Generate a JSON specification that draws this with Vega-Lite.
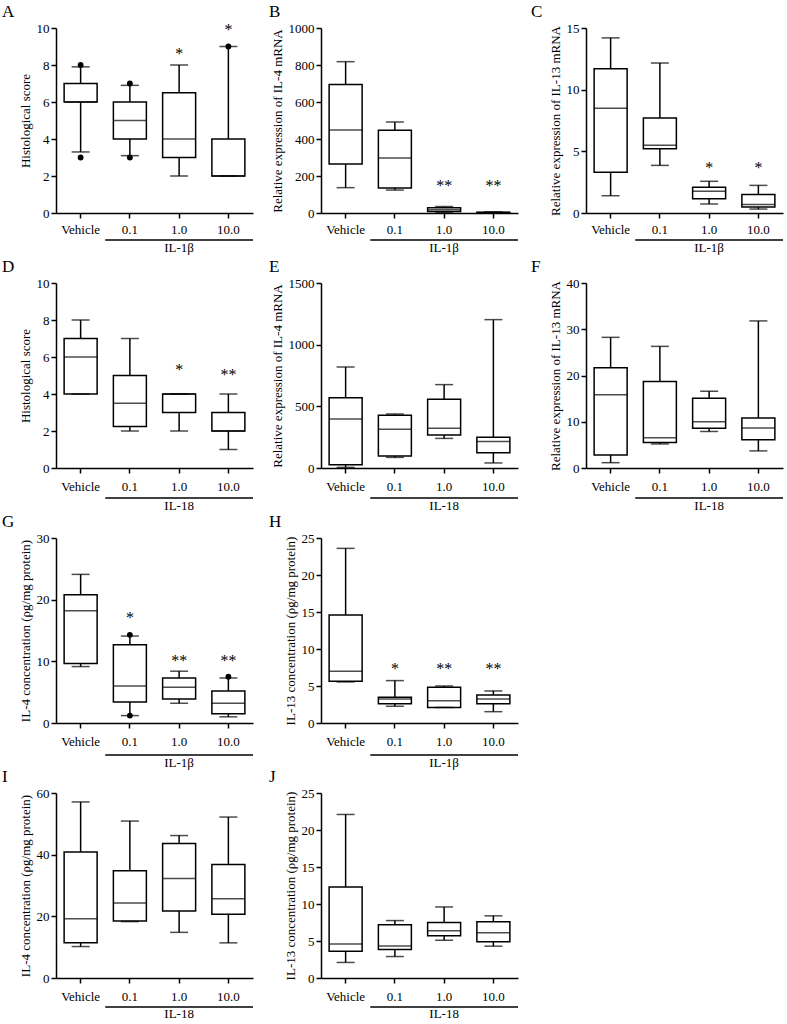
{
"$schema":"https://vega.github.io/schema/vega-lite/v6.json",
"background":"white",
"padding":{"left":2,"top":3,"right":2,"bottom":0},
"config":{
 "view":{"stroke":null},
 "font":"Liberation Serif",
 "axis":{"domainColor":"black","domainWidth":1.5,"tickColor":"black","tickWidth":1.5,"tickSize":5,"labelColor":"black","labelFont":"Liberation Serif","labelFontSize":13,"titleFont":"Liberation Serif","titleFontSize":13,"titleFontWeight":"normal","titleColor":"black","grid":false,"labelPadding":2,"titlePadding":4,"labelOverlap":false},
 "axisX":{"labelAngle":0},
 "title":{"font":"Liberation Serif","fontSize":17,"fontWeight":"normal","anchor":"start","frame":"group","color":"black"}
},
"datasets":{
 "boxes":[
  {"panel":"A","group":"Vehicle","min":3.3,"q1":6,"med":6,"q3":7,"max":7.9},
  {"panel":"A","group":"0.1","min":3.1,"q1":4,"med":5,"q3":6,"max":6.9},
  {"panel":"A","group":"1.0","min":2,"q1":3,"med":4,"q3":6.5,"max":8},
  {"panel":"A","group":"10.0","min":2,"q1":2,"med":2,"q3":4,"max":9},
  {"panel":"B","group":"Vehicle","min":137,"q1":265,"med":449,"q3":694,"max":818},
  {"panel":"B","group":"0.1","min":124,"q1":135,"med":297,"q3":447,"max":492},
  {"panel":"B","group":"1.0","min":3,"q1":8,"med":18,"q3":28,"max":35},
  {"panel":"B","group":"10.0","min":1,"q1":2,"med":3,"q3":4,"max":6},
  {"panel":"C","group":"Vehicle","min":1.4,"q1":3.3,"med":8.5,"q3":11.7,"max":14.2},
  {"panel":"C","group":"0.1","min":3.86,"q1":5.2,"med":5.5,"q3":7.7,"max":12.16},
  {"panel":"C","group":"1.0","min":0.73,"q1":1.16,"med":1.76,"q3":2.08,"max":2.57},
  {"panel":"C","group":"10.0","min":0.32,"q1":0.49,"med":0.68,"q3":1.51,"max":2.24},
  {"panel":"D","group":"Vehicle","min":4,"q1":4,"med":6,"q3":7,"max":8},
  {"panel":"D","group":"0.1","min":2,"q1":2.25,"med":3.5,"q3":5,"max":7},
  {"panel":"D","group":"1.0","min":2,"q1":3,"med":4,"q3":4,"max":4},
  {"panel":"D","group":"10.0","min":1,"q1":2,"med":2,"q3":3,"max":4},
  {"panel":"E","group":"Vehicle","min":5,"q1":27,"med":397,"q3":570,"max":819},
  {"panel":"E","group":"0.1","min":86,"q1":97,"med":314,"q3":427,"max":438},
  {"panel":"E","group":"1.0","min":240,"q1":268,"med":322,"q3":557,"max":676},
  {"panel":"E","group":"10.0","min":41,"q1":124,"med":214,"q3":249,"max":1203},
  {"panel":"F","group":"Vehicle","min":1.15,"q1":2.8,"med":15.86,"q3":21.7,"max":28.25},
  {"panel":"F","group":"0.1","min":5.2,"q1":5.5,"med":6.56,"q3":18.7,"max":26.3},
  {"panel":"F","group":"1.0","min":7.9,"q1":8.6,"med":10.0,"q3":15.1,"max":16.6},
  {"panel":"F","group":"10.0","min":3.7,"q1":6.1,"med":8.65,"q3":10.8,"max":31.8},
  {"panel":"G","group":"Vehicle","min":9.15,"q1":9.64,"med":18.2,"q3":20.8,"max":24.1},
  {"panel":"G","group":"0.1","min":1.2,"q1":3.4,"med":6.0,"q3":12.7,"max":14.1},
  {"panel":"G","group":"1.0","min":3.2,"q1":3.9,"med":5.8,"q3":7.3,"max":8.4},
  {"panel":"G","group":"10.0","min":1.0,"q1":1.5,"med":3.2,"q3":5.2,"max":7.3},
  {"panel":"H","group":"Vehicle","min":5.55,"q1":5.64,"med":7.0,"q3":14.6,"max":23.6},
  {"panel":"H","group":"0.1","min":2.26,"q1":2.6,"med":3.25,"q3":3.47,"max":5.73},
  {"panel":"H","group":"1.0","min":2.1,"q1":2.1,"med":3.0,"q3":4.83,"max":5.0},
  {"panel":"H","group":"10.0","min":1.53,"q1":2.6,"med":3.25,"q3":3.8,"max":4.33},
  {"panel":"I","group":"Vehicle","min":10.2,"q1":11.4,"med":19.2,"q3":40.9,"max":57.1},
  {"panel":"I","group":"0.1","min":18.3,"q1":18.5,"med":24.3,"q3":34.8,"max":50.9},
  {"panel":"I","group":"1.0","min":14.8,"q1":21.7,"med":32.3,"q3":43.6,"max":46.2},
  {"panel":"I","group":"10.0","min":11.4,"q1":20.7,"med":25.7,"q3":36.8,"max":52.2},
  {"panel":"J","group":"Vehicle","min":2.1,"q1":3.6,"med":4.6,"q3":12.3,"max":22.1},
  {"panel":"J","group":"0.1","min":2.9,"q1":3.84,"med":4.33,"q3":7.2,"max":7.76},
  {"panel":"J","group":"1.0","min":5.1,"q1":5.7,"med":6.4,"q3":7.5,"max":9.6},
  {"panel":"J","group":"10.0","min":4.3,"q1":4.9,"med":6.1,"q3":7.6,"max":8.4}
 ],
 "outliers":[
  {"panel":"A","group":"Vehicle","value":8},
  {"panel":"A","group":"Vehicle","value":3},
  {"panel":"A","group":"0.1","value":7},
  {"panel":"A","group":"0.1","value":3},
  {"panel":"A","group":"10.0","value":9},
  {"panel":"G","group":"0.1","value":14.3},
  {"panel":"G","group":"0.1","value":1.2},
  {"panel":"G","group":"10.0","value":7.5}
 ],
 "stars":[
  {"panel":"A","group":"1.0","label":"*","pos":8.7},
  {"panel":"A","group":"10.0","label":"*","pos":10.0},
  {"panel":"B","group":"1.0","label":"**","pos":157},
  {"panel":"B","group":"10.0","label":"**","pos":157},
  {"panel":"C","group":"1.0","label":"*","pos":3.78},
  {"panel":"C","group":"10.0","label":"*","pos":3.78},
  {"panel":"D","group":"1.0","label":"*","pos":5.4},
  {"panel":"D","group":"10.0","label":"**","pos":5.13},
  {"panel":"G","group":"0.1","label":"*","pos":17.4},
  {"panel":"G","group":"1.0","label":"**","pos":10.3},
  {"panel":"G","group":"10.0","label":"**","pos":10.3},
  {"panel":"H","group":"0.1","label":"*","pos":7.6},
  {"panel":"H","group":"1.0","label":"**","pos":7.6},
  {"panel":"H","group":"10.0","label":"**","pos":7.6}
 ]
},
"columns":3,
"spacing":{"row":70,"column":68},
"bounds":"flush",
"concat":[
 {"width":197,"height":185,"title":{"text":"A","dx":-54,"offset":1},
  "data":{"name":"boxes"},"transform":[{"filter":"datum.panel==='A'"}],
  "encoding":{"x":{"field":"group","type":"nominal","scale":{"domain":["Vehicle","0.1","1.0","10.0"],"paddingInner":0,"paddingOuter":0},"axis":{"title":null,"labelPadding":5.5}}},
  "layer":[
   {"mark":{"type":"rule","color":"black","strokeWidth":1.5},"encoding":{"y":{"field":"min","type":"quantitative","scale":{"domain":[0,10],"nice":false},"axis":{"values":[0,2,4,6,8,10],"tickCount":20,"format":"d","labelOverlap":false,"title":"Histological score"}},"y2":{"field":"max"}}},
   {"mark":{"type":"bar","fill":"white","stroke":"black","strokeWidth":1.5,"size":33},"encoding":{"y":{"field":"q1","type":"quantitative"},"y2":{"field":"q3"}}},
   {"mark":{"type":"tick","color":"black","size":33,"thickness":1.5},"encoding":{"y":{"field":"med","type":"quantitative"}}},
   {"transform":[{"fold":["min","max"],"as":["k","v"]}],"mark":{"type":"tick","color":"black","size":18,"thickness":1.5},"encoding":{"y":{"field":"v","type":"quantitative"}}},
   {"data":{"name":"outliers"},"transform":[{"filter":"datum.panel==='A'"}],"mark":{"type":"point","filled":true,"color":"black","size":34,"opacity":1},"encoding":{"y":{"field":"value","type":"quantitative"}}},
   {"data":{"name":"stars"},"transform":[{"filter":"datum.panel==='A'"}],"mark":{"type":"text","fontSize":16,"baseline":"middle","dy":2,"color":"black","font":"Liberation Serif"},"encoding":{"y":{"field":"pos","type":"quantitative"},"text":{"field":"label"}}},
   {"data":{"values":[{}]},"mark":{"type":"rule","color":"black","strokeWidth":1.5},"encoding":{"x":{"datum":"0.1","bandPosition":0},"x2":{"datum":"10.0","bandPosition":1},"y":{"datum":-1.459}}},
   {"data":{"values":[{}]},"mark":{"type":"text","fontSize":13,"baseline":"middle","color":"black","font":"Liberation Serif"},"encoding":{"x":{"datum":"1.0"},"y":{"datum":-1.892},"text":{"value":"IL-1β"}}}
  ]},
 {"width":197,"height":185,"title":{"text":"B","dx":-52,"offset":1},
  "data":{"name":"boxes"},"transform":[{"filter":"datum.panel==='B'"}],
  "encoding":{"x":{"field":"group","type":"nominal","scale":{"domain":["Vehicle","0.1","1.0","10.0"],"paddingInner":0,"paddingOuter":0},"axis":{"title":null,"labelPadding":5.5}}},
  "layer":[
   {"mark":{"type":"rule","color":"black","strokeWidth":1.5},"encoding":{"y":{"field":"min","type":"quantitative","scale":{"domain":[0,1000],"nice":false},"axis":{"values":[0,200,400,600,800,1000],"tickCount":20,"format":"d","labelOverlap":false,"title":"Relative expression of IL-4 mRNA"}},"y2":{"field":"max"}}},
   {"mark":{"type":"bar","fill":"white","stroke":"black","strokeWidth":1.5,"size":33},"encoding":{"y":{"field":"q1","type":"quantitative"},"y2":{"field":"q3"}}},
   {"mark":{"type":"tick","color":"black","size":33,"thickness":1.5},"encoding":{"y":{"field":"med","type":"quantitative"}}},
   {"transform":[{"fold":["min","max"],"as":["k","v"]}],"mark":{"type":"tick","color":"black","size":18,"thickness":1.5},"encoding":{"y":{"field":"v","type":"quantitative"}}},
   {"data":{"name":"stars"},"transform":[{"filter":"datum.panel==='B'"}],"mark":{"type":"text","fontSize":16,"baseline":"middle","dy":2,"color":"black","font":"Liberation Serif"},"encoding":{"y":{"field":"pos","type":"quantitative"},"text":{"field":"label"}}},
   {"data":{"values":[{}]},"mark":{"type":"rule","color":"black","strokeWidth":1.5},"encoding":{"x":{"datum":"0.1","bandPosition":0},"x2":{"datum":"10.0","bandPosition":1},"y":{"datum":-145.9}}},
   {"data":{"values":[{}]},"mark":{"type":"text","fontSize":13,"baseline":"middle","color":"black","font":"Liberation Serif"},"encoding":{"x":{"datum":"1.0"},"y":{"datum":-189.2},"text":{"value":"IL-1β"}}}
  ]},
 {"width":197,"height":185,"title":{"text":"C","dx":-55,"offset":1},
  "data":{"name":"boxes"},"transform":[{"filter":"datum.panel==='C'"}],
  "encoding":{"x":{"field":"group","type":"nominal","scale":{"domain":["Vehicle","0.1","1.0","10.0"],"paddingInner":0,"paddingOuter":0},"axis":{"title":null,"labelPadding":5.5}}},
  "layer":[
   {"mark":{"type":"rule","color":"black","strokeWidth":1.5},"encoding":{"y":{"field":"min","type":"quantitative","scale":{"domain":[0,15],"nice":false},"axis":{"values":[0,5,10,15],"tickCount":20,"format":"d","labelOverlap":false,"title":"Relative expression of IL-13 mRNA"}},"y2":{"field":"max"}}},
   {"mark":{"type":"bar","fill":"white","stroke":"black","strokeWidth":1.5,"size":33},"encoding":{"y":{"field":"q1","type":"quantitative"},"y2":{"field":"q3"}}},
   {"mark":{"type":"tick","color":"black","size":33,"thickness":1.5},"encoding":{"y":{"field":"med","type":"quantitative"}}},
   {"transform":[{"fold":["min","max"],"as":["k","v"]}],"mark":{"type":"tick","color":"black","size":18,"thickness":1.5},"encoding":{"y":{"field":"v","type":"quantitative"}}},
   {"data":{"name":"stars"},"transform":[{"filter":"datum.panel==='C'"}],"mark":{"type":"text","fontSize":16,"baseline":"middle","dy":2,"color":"black","font":"Liberation Serif"},"encoding":{"y":{"field":"pos","type":"quantitative"},"text":{"field":"label"}}},
   {"data":{"values":[{}]},"mark":{"type":"rule","color":"black","strokeWidth":1.5},"encoding":{"x":{"datum":"0.1","bandPosition":0},"x2":{"datum":"10.0","bandPosition":1},"y":{"datum":-2.189}}},
   {"data":{"values":[{}]},"mark":{"type":"text","fontSize":13,"baseline":"middle","color":"black","font":"Liberation Serif"},"encoding":{"x":{"datum":"1.0"},"y":{"datum":-2.838},"text":{"value":"IL-1β"}}}
  ]},
 {"width":197,"height":185,"title":{"text":"D","dx":-54,"offset":1},
  "data":{"name":"boxes"},"transform":[{"filter":"datum.panel==='D'"}],
  "encoding":{"x":{"field":"group","type":"nominal","scale":{"domain":["Vehicle","0.1","1.0","10.0"],"paddingInner":0,"paddingOuter":0},"axis":{"title":null,"labelPadding":7.5}}},
  "layer":[
   {"mark":{"type":"rule","color":"black","strokeWidth":1.5},"encoding":{"y":{"field":"min","type":"quantitative","scale":{"domain":[0,10],"nice":false},"axis":{"values":[0,2,4,6,8,10],"tickCount":20,"format":"d","labelOverlap":false,"title":"Histological score"}},"y2":{"field":"max"}}},
   {"mark":{"type":"bar","fill":"white","stroke":"black","strokeWidth":1.5,"size":33},"encoding":{"y":{"field":"q1","type":"quantitative"},"y2":{"field":"q3"}}},
   {"mark":{"type":"tick","color":"black","size":33,"thickness":1.5},"encoding":{"y":{"field":"med","type":"quantitative"}}},
   {"transform":[{"fold":["min","max"],"as":["k","v"]}],"mark":{"type":"tick","color":"black","size":18,"thickness":1.5},"encoding":{"y":{"field":"v","type":"quantitative"}}},
   {"data":{"name":"stars"},"transform":[{"filter":"datum.panel==='D'"}],"mark":{"type":"text","fontSize":16,"baseline":"middle","dy":2,"color":"black","font":"Liberation Serif"},"encoding":{"y":{"field":"pos","type":"quantitative"},"text":{"field":"label"}}},
   {"data":{"values":[{}]},"mark":{"type":"rule","color":"black","strokeWidth":1.5},"encoding":{"x":{"datum":"0.1","bandPosition":0},"x2":{"datum":"10.0","bandPosition":1},"y":{"datum":-1.622}}},
   {"data":{"values":[{}]},"mark":{"type":"text","fontSize":13,"baseline":"middle","color":"black","font":"Liberation Serif"},"encoding":{"x":{"datum":"1.0"},"y":{"datum":-2.054},"text":{"value":"IL-18"}}}
  ]},
 {"width":197,"height":185,"title":{"text":"E","dx":-52,"offset":1},
  "data":{"name":"boxes"},"transform":[{"filter":"datum.panel==='E'"}],
  "encoding":{"x":{"field":"group","type":"nominal","scale":{"domain":["Vehicle","0.1","1.0","10.0"],"paddingInner":0,"paddingOuter":0},"axis":{"title":null,"labelPadding":7.5}}},
  "layer":[
   {"mark":{"type":"rule","color":"black","strokeWidth":1.5},"encoding":{"y":{"field":"min","type":"quantitative","scale":{"domain":[0,1500],"nice":false},"axis":{"values":[0,500,1000,1500],"tickCount":20,"format":"d","labelOverlap":false,"title":"Relative expression of IL-4 mRNA"}},"y2":{"field":"max"}}},
   {"mark":{"type":"bar","fill":"white","stroke":"black","strokeWidth":1.5,"size":33},"encoding":{"y":{"field":"q1","type":"quantitative"},"y2":{"field":"q3"}}},
   {"mark":{"type":"tick","color":"black","size":33,"thickness":1.5},"encoding":{"y":{"field":"med","type":"quantitative"}}},
   {"transform":[{"fold":["min","max"],"as":["k","v"]}],"mark":{"type":"tick","color":"black","size":18,"thickness":1.5},"encoding":{"y":{"field":"v","type":"quantitative"}}},
   {"data":{"values":[{}]},"mark":{"type":"rule","color":"black","strokeWidth":1.5},"encoding":{"x":{"datum":"0.1","bandPosition":0},"x2":{"datum":"10.0","bandPosition":1},"y":{"datum":-243.2}}},
   {"data":{"values":[{}]},"mark":{"type":"text","fontSize":13,"baseline":"middle","color":"black","font":"Liberation Serif"},"encoding":{"x":{"datum":"1.0"},"y":{"datum":-308.1},"text":{"value":"IL-18"}}}
  ]},
 {"width":197,"height":185,"title":{"text":"F","dx":-55,"offset":1},
  "data":{"name":"boxes"},"transform":[{"filter":"datum.panel==='F'"}],
  "encoding":{"x":{"field":"group","type":"nominal","scale":{"domain":["Vehicle","0.1","1.0","10.0"],"paddingInner":0,"paddingOuter":0},"axis":{"title":null,"labelPadding":7.5}}},
  "layer":[
   {"mark":{"type":"rule","color":"black","strokeWidth":1.5},"encoding":{"y":{"field":"min","type":"quantitative","scale":{"domain":[0,40],"nice":false},"axis":{"values":[0,10,20,30,40],"tickCount":20,"format":"d","labelOverlap":false,"title":"Relative expression of IL-13 mRNA"}},"y2":{"field":"max"}}},
   {"mark":{"type":"bar","fill":"white","stroke":"black","strokeWidth":1.5,"size":33},"encoding":{"y":{"field":"q1","type":"quantitative"},"y2":{"field":"q3"}}},
   {"mark":{"type":"tick","color":"black","size":33,"thickness":1.5},"encoding":{"y":{"field":"med","type":"quantitative"}}},
   {"transform":[{"fold":["min","max"],"as":["k","v"]}],"mark":{"type":"tick","color":"black","size":18,"thickness":1.5},"encoding":{"y":{"field":"v","type":"quantitative"}}},
   {"data":{"values":[{}]},"mark":{"type":"rule","color":"black","strokeWidth":1.5},"encoding":{"x":{"datum":"0.1","bandPosition":0},"x2":{"datum":"10.0","bandPosition":1},"y":{"datum":-6.486}}},
   {"data":{"values":[{}]},"mark":{"type":"text","fontSize":13,"baseline":"middle","color":"black","font":"Liberation Serif"},"encoding":{"x":{"datum":"1.0"},"y":{"datum":-8.216},"text":{"value":"IL-18"}}}
  ]},
 {"width":197,"height":185,"title":{"text":"G","dx":-54,"offset":1},
  "data":{"name":"boxes"},"transform":[{"filter":"datum.panel==='G'"}],
  "encoding":{"x":{"field":"group","type":"nominal","scale":{"domain":["Vehicle","0.1","1.0","10.0"],"paddingInner":0,"paddingOuter":0},"axis":{"title":null,"labelPadding":7.5}}},
  "layer":[
   {"mark":{"type":"rule","color":"black","strokeWidth":1.5},"encoding":{"y":{"field":"min","type":"quantitative","scale":{"domain":[0,30],"nice":false},"axis":{"values":[0,10,20,30],"tickCount":20,"format":"d","labelOverlap":false,"title":"IL-4 concentration (ρg/mg protein)"}},"y2":{"field":"max"}}},
   {"mark":{"type":"bar","fill":"white","stroke":"black","strokeWidth":1.5,"size":33},"encoding":{"y":{"field":"q1","type":"quantitative"},"y2":{"field":"q3"}}},
   {"mark":{"type":"tick","color":"black","size":33,"thickness":1.5},"encoding":{"y":{"field":"med","type":"quantitative"}}},
   {"transform":[{"fold":["min","max"],"as":["k","v"]}],"mark":{"type":"tick","color":"black","size":18,"thickness":1.5},"encoding":{"y":{"field":"v","type":"quantitative"}}},
   {"data":{"name":"outliers"},"transform":[{"filter":"datum.panel==='G'"}],"mark":{"type":"point","filled":true,"color":"black","size":34,"opacity":1},"encoding":{"y":{"field":"value","type":"quantitative"}}},
   {"data":{"name":"stars"},"transform":[{"filter":"datum.panel==='G'"}],"mark":{"type":"text","fontSize":16,"baseline":"middle","dy":2,"color":"black","font":"Liberation Serif"},"encoding":{"y":{"field":"pos","type":"quantitative"},"text":{"field":"label"}}},
   {"data":{"values":[{}]},"mark":{"type":"rule","color":"black","strokeWidth":1.5},"encoding":{"x":{"datum":"0.1","bandPosition":0},"x2":{"datum":"10.0","bandPosition":1},"y":{"datum":-5.189}}},
   {"data":{"values":[{}]},"mark":{"type":"text","fontSize":13,"baseline":"middle","color":"black","font":"Liberation Serif"},"encoding":{"x":{"datum":"1.0"},"y":{"datum":-6.486},"text":{"value":"IL-1β"}}}
  ]},
 {"width":197,"height":185,"title":{"text":"H","dx":-52,"offset":1},
  "data":{"name":"boxes"},"transform":[{"filter":"datum.panel==='H'"}],
  "encoding":{"x":{"field":"group","type":"nominal","scale":{"domain":["Vehicle","0.1","1.0","10.0"],"paddingInner":0,"paddingOuter":0},"axis":{"title":null,"labelPadding":7.5}}},
  "layer":[
   {"mark":{"type":"rule","color":"black","strokeWidth":1.5},"encoding":{"y":{"field":"min","type":"quantitative","scale":{"domain":[0,25],"nice":false},"axis":{"values":[0,5,10,15,20,25],"tickCount":20,"format":"d","labelOverlap":false,"title":"IL-13 concentration (ρg/mg protein)"}},"y2":{"field":"max"}}},
   {"mark":{"type":"bar","fill":"white","stroke":"black","strokeWidth":1.5,"size":33},"encoding":{"y":{"field":"q1","type":"quantitative"},"y2":{"field":"q3"}}},
   {"mark":{"type":"tick","color":"black","size":33,"thickness":1.5},"encoding":{"y":{"field":"med","type":"quantitative"}}},
   {"transform":[{"fold":["min","max"],"as":["k","v"]}],"mark":{"type":"tick","color":"black","size":18,"thickness":1.5},"encoding":{"y":{"field":"v","type":"quantitative"}}},
   {"data":{"name":"stars"},"transform":[{"filter":"datum.panel==='H'"}],"mark":{"type":"text","fontSize":16,"baseline":"middle","dy":2,"color":"black","font":"Liberation Serif"},"encoding":{"y":{"field":"pos","type":"quantitative"},"text":{"field":"label"}}},
   {"data":{"values":[{}]},"mark":{"type":"rule","color":"black","strokeWidth":1.5},"encoding":{"x":{"datum":"0.1","bandPosition":0},"x2":{"datum":"10.0","bandPosition":1},"y":{"datum":-4.324}}},
   {"data":{"values":[{}]},"mark":{"type":"text","fontSize":13,"baseline":"middle","color":"black","font":"Liberation Serif"},"encoding":{"x":{"datum":"1.0"},"y":{"datum":-5.405},"text":{"value":"IL-1β"}}}
  ]},
 {"width":197,"height":185,"data":{"values":[]},"mark":"point"},
 {"width":197,"height":185,"title":{"text":"I","dx":-54,"offset":1},
  "data":{"name":"boxes"},"transform":[{"filter":"datum.panel==='I'"}],
  "encoding":{"x":{"field":"group","type":"nominal","scale":{"domain":["Vehicle","0.1","1.0","10.0"],"paddingInner":0,"paddingOuter":0},"axis":{"title":null,"labelPadding":7.5}}},
  "layer":[
   {"mark":{"type":"rule","color":"black","strokeWidth":1.5},"encoding":{"y":{"field":"min","type":"quantitative","scale":{"domain":[0,60],"nice":false},"axis":{"values":[0,20,40,60],"tickCount":20,"format":"d","labelOverlap":false,"title":"IL-4 concentration (ρg/mg protein)"}},"y2":{"field":"max"}}},
   {"mark":{"type":"bar","fill":"white","stroke":"black","strokeWidth":1.5,"size":33},"encoding":{"y":{"field":"q1","type":"quantitative"},"y2":{"field":"q3"}}},
   {"mark":{"type":"tick","color":"black","size":33,"thickness":1.5},"encoding":{"y":{"field":"med","type":"quantitative"}}},
   {"transform":[{"fold":["min","max"],"as":["k","v"]}],"mark":{"type":"tick","color":"black","size":18,"thickness":1.5},"encoding":{"y":{"field":"v","type":"quantitative"}}},
   {"data":{"values":[{}]},"mark":{"type":"rule","color":"black","strokeWidth":1.5},"encoding":{"x":{"datum":"0.1","bandPosition":0},"x2":{"datum":"10.0","bandPosition":1},"y":{"datum":-9.405}}},
   {"data":{"values":[{}]},"mark":{"type":"text","fontSize":13,"baseline":"middle","color":"black","font":"Liberation Serif"},"encoding":{"x":{"datum":"1.0"},"y":{"datum":-11.68},"text":{"value":"IL-18"}}}
  ]},
 {"width":197,"height":185,"title":{"text":"J","dx":-52,"offset":1},
  "data":{"name":"boxes"},"transform":[{"filter":"datum.panel==='J'"}],
  "encoding":{"x":{"field":"group","type":"nominal","scale":{"domain":["Vehicle","0.1","1.0","10.0"],"paddingInner":0,"paddingOuter":0},"axis":{"title":null,"labelPadding":7.5}}},
  "layer":[
   {"mark":{"type":"rule","color":"black","strokeWidth":1.5},"encoding":{"y":{"field":"min","type":"quantitative","scale":{"domain":[0,25],"nice":false},"axis":{"values":[0,5,10,15,20,25],"tickCount":20,"format":"d","labelOverlap":false,"title":"IL-13 concentration (ρg/mg protein)"}},"y2":{"field":"max"}}},
   {"mark":{"type":"bar","fill":"white","stroke":"black","strokeWidth":1.5,"size":33},"encoding":{"y":{"field":"q1","type":"quantitative"},"y2":{"field":"q3"}}},
   {"mark":{"type":"tick","color":"black","size":33,"thickness":1.5},"encoding":{"y":{"field":"med","type":"quantitative"}}},
   {"transform":[{"fold":["min","max"],"as":["k","v"]}],"mark":{"type":"tick","color":"black","size":18,"thickness":1.5},"encoding":{"y":{"field":"v","type":"quantitative"}}},
   {"data":{"values":[{}]},"mark":{"type":"rule","color":"black","strokeWidth":1.5},"encoding":{"x":{"datum":"0.1","bandPosition":0},"x2":{"datum":"10.0","bandPosition":1},"y":{"datum":-3.919}}},
   {"data":{"values":[{}]},"mark":{"type":"text","fontSize":13,"baseline":"middle","color":"black","font":"Liberation Serif"},"encoding":{"x":{"datum":"1.0"},"y":{"datum":-4.865},"text":{"value":"IL-18"}}}
  ]}
]
}
